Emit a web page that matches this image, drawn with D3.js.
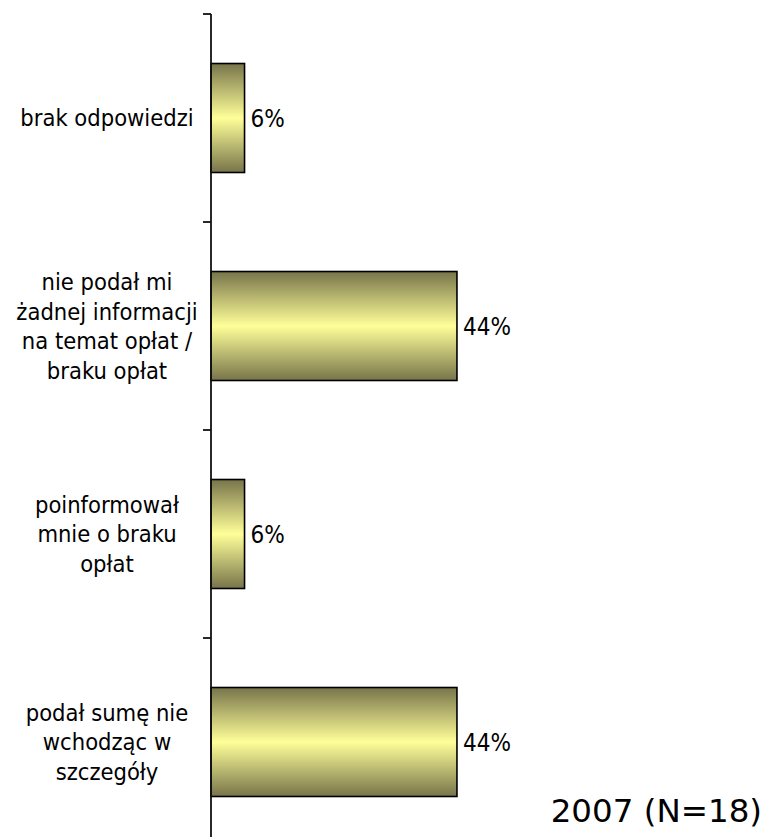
<!DOCTYPE html>
<html>
<head>
<meta charset="utf-8">
<script src="https://cdn.jsdelivr.net/npm/d3@7"></script>
<style>
  html, body { margin: 0; padding: 0; background: #fff; }
  svg { display: block; }
</style>
</head>
<body>
<svg id="chart" width="766" height="837"></svg>
<script>
// Answers, top to bottom
const categories = [
  ["brak odpowiedzi"],
  ["nie podał mi", "żadnej informacji", "na temat opłat /", "braku opłat"],
  ["poinformował", "mnie o braku", "opłat"],
  ["podał sumę nie", "wchodząc w", "szczegóły"]
];
const values = [6, 44, 6, 44];
const valueLabels = ["6%", "44%", "6%", "44%"];
const subtitle = "2007 (N=18)";

const svg = d3.select("#chart");
const labelFont = "'DejaVu Sans Condensed', 'DejaVu Sans', sans-serif";

const x = d3.scaleLinear().domain([0, 100]).range([211, 770]);
const y = d3.scaleBand()
  .domain(d3.range(categories.length))
  .range([14, 846])
  .paddingInner(0.476)
  .paddingOuter(0.238);

// Vertical gradient: dark olive edges, pale yellow centre
const defs = svg.append("defs");
const grad = defs.append("linearGradient")
  .attr("id", "barFill")
  .attr("x1", 0).attr("y1", 0).attr("x2", 0).attr("y2", 1);
grad.append("stop").attr("offset", "0%").attr("stop-color", "#77744a");
grad.append("stop").attr("offset", "50%").attr("stop-color", "#ffff99");
grad.append("stop").attr("offset", "100%").attr("stop-color", "#77744a");

// Bars
svg.append("g").selectAll("rect")
  .data(values)
  .join("rect")
  .attr("x", x(0))
  .attr("y", (d, i) => y(i))
  .attr("width", d => x(d) - x(0))
  .attr("height", y.bandwidth())
  .attr("fill", "url(#barFill)")
  .attr("stroke", "#000")
  .attr("stroke-width", 1.6);

// Category axis with ticks between bands
const boundaries = d3.range(categories.length + 1).map(i => 14 + i * y.step());
const axisG = svg.append("g");
axisG.append("line")
  .attr("x1", x(0)).attr("x2", x(0))
  .attr("y1", boundaries[0]).attr("y2", 837)
  .attr("stroke", "#111").attr("stroke-width", 1.8);
axisG.selectAll("line.tick")
  .data(boundaries)
  .join("line")
  .attr("class", "tick")
  .attr("x1", x(0) - 8).attr("x2", x(0))
  .attr("y1", d => d).attr("y2", d => d)
  .attr("stroke", "#111").attr("stroke-width", 1.8);

// Category labels (multi-line, centred)
const lineH = 29.5;
const catG = svg.append("g")
  .attr("font-family", labelFont)
  .attr("font-size", "23.5px")
  .attr("fill", "#000")
  .attr("text-anchor", "middle");
categories.forEach((lines, i) => {
  const cy = y(i) + y.bandwidth() / 2;
  const t = catG.append("text")
    .attr("x", 107)
    .attr("y", cy - (lines.length - 1) * lineH / 2);
  lines.forEach((ln, j) => {
    t.append("tspan")
      .attr("x", 107)
      .attr("dy", j === 0 ? "0.36em" : lineH)
      .text(ln);
  });
});

// Value labels
svg.append("g")
  .attr("font-family", labelFont)
  .attr("font-size", "24px")
  .attr("fill", "#000")
  .selectAll("text")
  .data(values)
  .join("text")
  .attr("x", d => x(d) + 6)
  .attr("y", (d, i) => y(i) + y.bandwidth() / 2)
  .attr("dy", "0.36em")
  .text((d, i) => valueLabels[i]);

// Sample note
svg.append("text")
  .attr("x", 762)
  .attr("y", 822)
  .attr("text-anchor", "end")
  .attr("font-family", "'DejaVu Sans', Verdana, sans-serif")
  .attr("font-size", "32.5px")
  .attr("fill", "#000")
  .text(subtitle);
</script>
</body>
</html>
